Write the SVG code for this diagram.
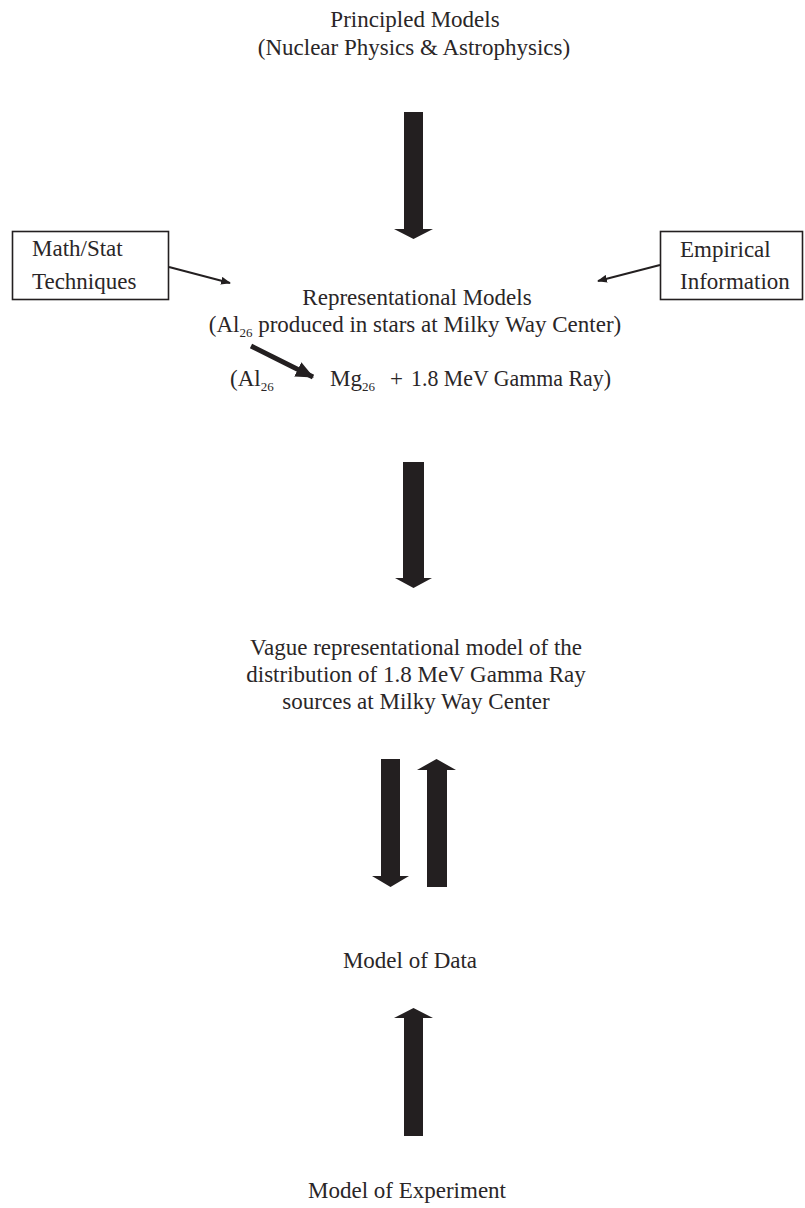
<svg xmlns="http://www.w3.org/2000/svg" width="805" height="1208" viewBox="0 0 805 1208">
  <defs>
    <style>
      .t { font-family: "Liberation Serif", "DejaVu Serif", serif; font-size: 23px; fill: #2a2627; }
      .c { text-anchor: middle; }
      .sub { font-size: 13px; }
      .box { fill: #ffffff; stroke: #231f20; stroke-width: 1.6; }
      .blk { fill: #231f20; }
      .thin { stroke: #231f20; stroke-width: 2; fill: none; }
      .bold { stroke: #231f20; stroke-width: 5; fill: none; }
    </style>
    <marker id="headSmall" markerWidth="10" markerHeight="8" refX="9" refY="4" orient="auto" markerUnits="userSpaceOnUse">
      <path d="M0,0 L10,4 L0,8 Z" fill="#231f20"/>
    </marker>
    <marker id="headBold" markerWidth="18" markerHeight="16" refX="17" refY="8" orient="auto" markerUnits="userSpaceOnUse">
      <path d="M0,0 L18,8 L0,16 Z" fill="#231f20"/>
    </marker>
  </defs>
  <rect width="805" height="1208" fill="#ffffff"/>

  <g id="principled">
    <text class="t c" x="415" y="27">Principled Models</text>
    <text class="t c" x="414" y="55">(Nuclear Physics &amp; Astrophysics)</text>
  </g>

  <g id="math-stat">
    <rect class="box" x="12.5" y="231.5" width="156" height="68"/>
    <text class="t" x="32" y="256">Math/Stat</text>
    <text class="t" x="32" y="289">Techniques</text>
  </g>

  <g id="empirical">
    <rect class="box" x="660.5" y="231.5" width="142" height="68"/>
    <text class="t" x="680" y="257">Empirical</text>
    <text class="t" x="680" y="289">Information</text>
  </g>

  <g id="representational">
    <text class="t c" x="417" y="305">Representational Models</text>
    <text class="t c" x="415" y="332">(Al<tspan class="sub" dy="5">26</tspan><tspan dy="-5"> produced in stars at Milky Way Center)</tspan></text>
  </g>

  <g id="decay">
    <text class="t" x="230" y="386">(Al<tspan class="sub" dy="5">26</tspan></text>
    <text class="t" x="330" y="386">Mg<tspan class="sub" dy="5">26</tspan></text>
    <text class="t" x="390" y="386">+</text>
    <text class="t" x="411" y="386" textLength="200" lengthAdjust="spacingAndGlyphs">1.8 MeV Gamma Ray)</text>
  </g>

  <g id="vague">
    <text class="t c" x="416" y="655">Vague representational model of the</text>
    <text class="t c" x="416" y="682">distribution of 1.8 MeV Gamma Ray</text>
    <text class="t c" x="416" y="709">sources at Milky Way Center</text>
  </g>

  <g id="model-data">
    <text class="t c" x="410" y="968">Model of Data</text>
  </g>

  <g id="model-experiment">
    <text class="t c" x="407" y="1198">Model of Experiment</text>
  </g>

  <g id="connectors">
    <!-- block arrows -->
    <path class="blk" d="M404,112 H423 V229 H433 L413.5,239 L394,229 H404 Z"/>
    <path class="blk" d="M403,462 H424 V578 H432 L413.5,588 L395,578 H403 Z"/>
    <path class="blk" d="M381,759 H400 V876 H409 L390.5,887 L372,876 H381 Z"/>
    <path class="blk" d="M427,887 H447 V770 H456 L436.5,759 L417,770 H427 Z"/>
    <path class="blk" d="M404,1136 H423 V1018 H433 L413.5,1008 L394,1018 H404 Z"/>
    <!-- thin input arrows -->
    <line class="thin" x1="169" y1="267" x2="230" y2="283" marker-end="url(#headSmall)"/>
    <line class="thin" x1="660" y1="265" x2="598" y2="281" marker-end="url(#headSmall)"/>
    <!-- decay arrow -->
    <line class="bold" x1="251" y1="346" x2="313" y2="377" marker-end="url(#headBold)"/>
  </g>
</svg>
